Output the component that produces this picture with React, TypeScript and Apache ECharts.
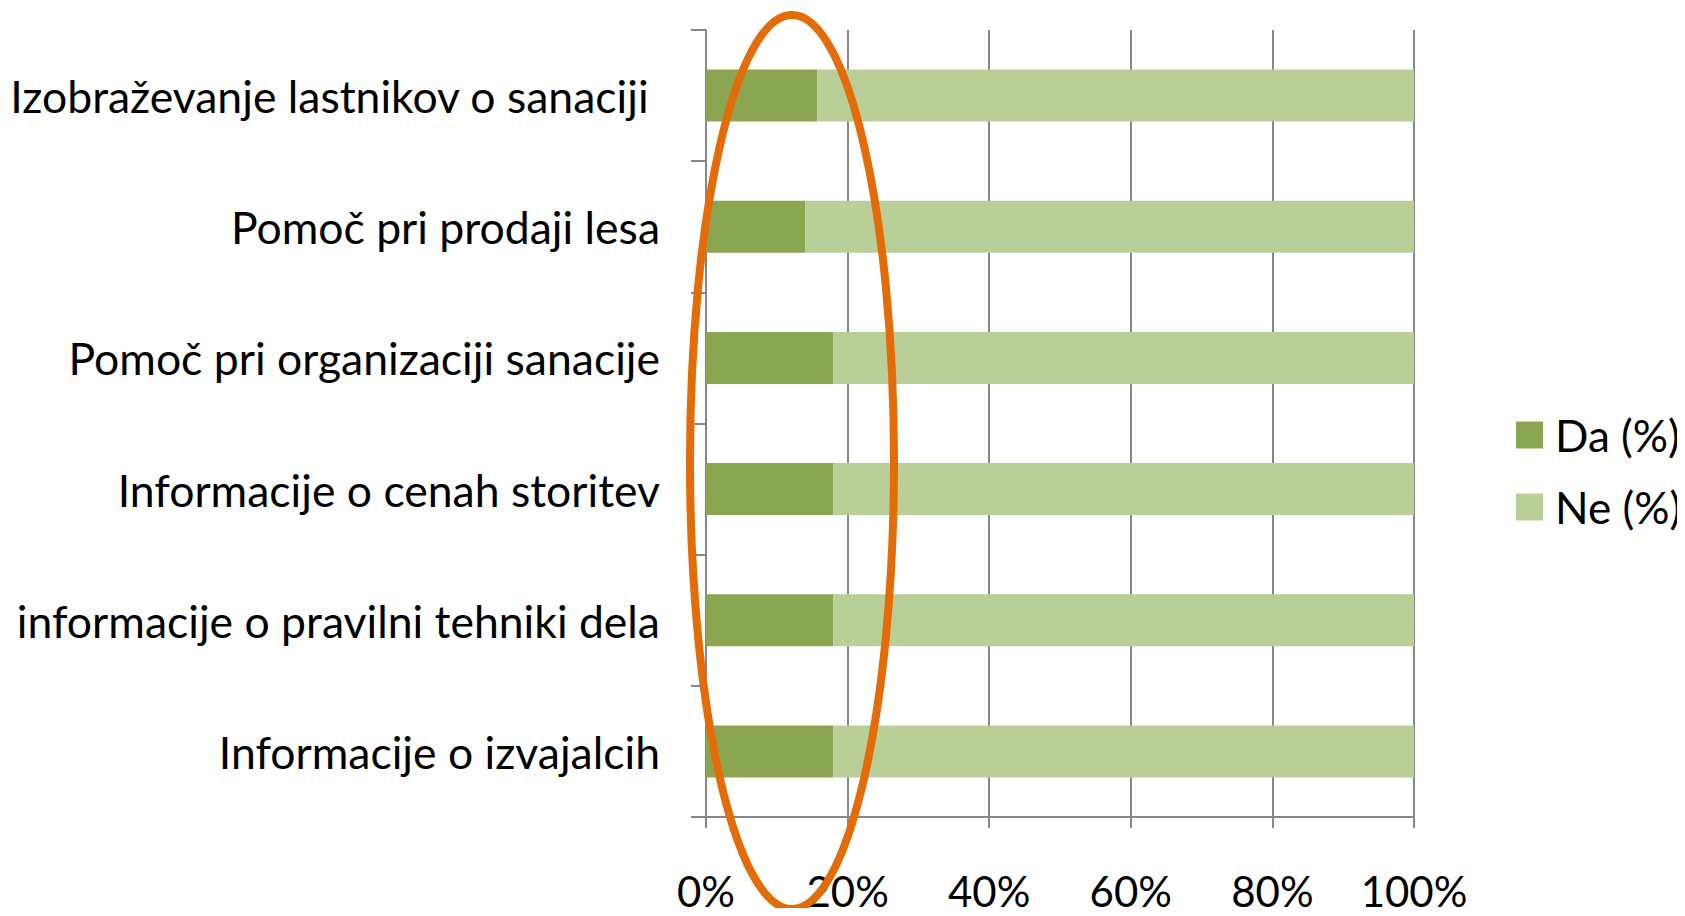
import React, { useEffect, useRef } from "react";
import * as echarts from "echarts";

const categories = [
  "Izobraževanje lastnikov o sanaciji ",
  "Pomoč pri prodaji lesa",
  "Pomoč pri organizaciji sanacije",
  "Informacije o cenah storitev",
  "informacije o pravilni tehniki dela",
  "Informacije o izvajalcih",
];
const daValues = [15.7, 14, 18, 18, 18, 18];
const neValues = [84.3, 86, 82, 82, 82, 82];
const xTicks = [0, 20, 40, 60, 80, 100];
const seriesNames = ["Da (%)", "Ne (%)"];

const FONT = "Lato, 'Open Sans', sans-serif";

export default function App() {
  const ref = useRef<HTMLDivElement>(null);
  useEffect(() => {
    const chart = echarts.init(ref.current!, null, { renderer: "svg" });
    chart.setOption({
      animation: false,
      backgroundColor: "#ffffff",
      textStyle: { fontFamily: FONT, color: "#000" },
      grid: { left: 706, right: 271, top: 30, bottom: 99, containLabel: false },
      legend: {
        orient: "vertical",
        left: 1516,
        top: 413,
        padding: 0,
        itemWidth: 27,
        itemHeight: 27,
        itemGap: 28,
        icon: "rect",
        textStyle: { fontSize: 44, color: "#000", fontFamily: FONT, padding: [0, 0, 0, 7] },
        data: seriesNames,
      },
      xAxis: {
        type: "value",
        min: xTicks[0],
        max: xTicks[xTicks.length - 1],
        interval: 20,
        axisLine: { show: true, lineStyle: { color: "#878787", width: 2 } },
        axisTick: { show: true, length: 11, lineStyle: { color: "#878787", width: 2 } },
        splitLine: { show: true, lineStyle: { color: "#878787", width: 2 } },
        axisLabel: {
          formatter: "{value}%",
          fontSize: 42,
          color: "#000",
          fontFamily: FONT,
          margin: 53,
        },
      },
      yAxis: {
        type: "category",
        inverse: true,
        data: categories,
        axisLine: { show: true, lineStyle: { color: "#878787", width: 2 } },
        axisTick: { show: true, length: 15, lineStyle: { color: "#878787", width: 2 } },
        axisLabel: {
          fontSize: 44.5,
          color: "#000",
          fontFamily: FONT,
          margin: 46,
        },
      },
      series: [
        {
          name: seriesNames[0],
          type: "bar",
          stack: "total",
          barWidth: 52,
          itemStyle: { color: "#8AA650" },
          data: daValues,
        },
        {
          name: seriesNames[1],
          type: "bar",
          stack: "total",
          barWidth: 52,
          itemStyle: { color: "#BACF97" },
          data: neValues,
        },
      ],
      graphic: [
        {
          type: "ellipse",
          z: 100,
          shape: { cx: 792, cy: 462, rx: 102, ry: 447 },
          style: { fill: "none", stroke: "#E36C09", lineWidth: 8 },
        },
      ],
    });
    return () => chart.dispose();
  }, []);
  return <div ref={ref} style={{ width: 1685, height: 916, margin: -8 }} />;
}
